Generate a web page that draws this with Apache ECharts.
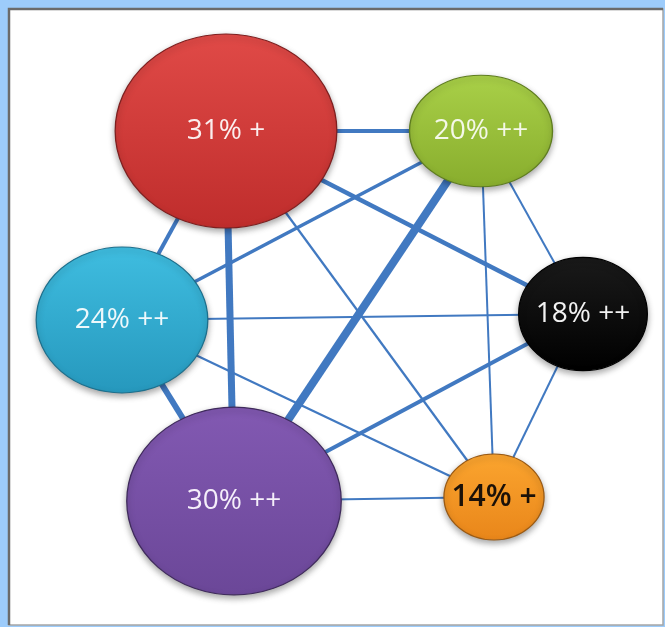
<!DOCTYPE html>
<html>
<head>
<meta charset="utf-8">
<title>Share network</title>
<script src="https://cdn.jsdelivr.net/npm/echarts@6/dist/echarts.min.js"></script>
<style>
  html, body { margin: 0; padding: 0; background: #9dccfb; }
  #chart { width: 665px; height: 627px; }
</style>
</head>
<body>
<div id="chart"></div>
<script>
// Segment shares (percent) and their trend marks
const segments = ['Red', 'Green', 'Cyan', 'Black', 'Purple', 'Orange'];
const shares = [31, 20, 24, 18, 30, 14];
const trends = ['+', '++', '++', '++', '++', '+'];

// Link strength between segments
const links = [
  ['Red', 'Green', 4],
  ['Red', 'Black', 4.5],
  ['Red', 'Cyan', 4],
  ['Red', 'Purple', 7],
  ['Red', 'Orange', 2.2],
  ['Green', 'Cyan', 3.5],
  ['Green', 'Purple', 8],
  ['Green', 'Black', 2],
  ['Green', 'Orange', 2],
  ['Cyan', 'Black', 2.2],
  ['Cyan', 'Purple', 6],
  ['Cyan', 'Orange', 2.2],
  ['Purple', 'Black', 4],
  ['Purple', 'Orange', 2.2],
  ['Black', 'Orange', 2]
];

// Node placement (pixel-space coordinates) and ellipse aspect
const layout = {
  Red:    { pos: [226, 131], aspect: 0.875 },
  Green:  { pos: [481, 131], aspect: 0.78 },
  Cyan:   { pos: [122, 320], aspect: 0.85 },
  Black:  { pos: [583, 314], aspect: 0.88 },
  Purple: { pos: [234, 501], aspect: 0.875 },
  Orange: { pos: [494, 497], aspect: 0.86 }
};

// Fill colours: [top, bottom, border, label]
const palette = {
  Red:    ['#e04a47', '#bf2d2c', '#7e1f1f', '#fbeeee'],
  Green:  ['#a9d048', '#88ad2d', '#5f7d1f', '#f4f8e8'],
  Cyan:   ['#3fbde0', '#2698bd', '#1d6f8c', '#eef8fb'],
  Black:  ['#1a1a1a', '#000000', '#000000', '#f2f2f2'],
  Purple: ['#8259b2', '#6b4798', '#3f2a5c', '#f5effa'],
  Orange: ['#fba52f', '#e9861a', '#9a5a14', '#1b1108']
};

const SIZE_PER_PCT = 7.15;

const nodes = segments.map((name, i) => {
  const w = shares[i] * SIZE_PER_PCT;
  const h = w * layout[name].aspect;
  const c = palette[name];
  return {
    name: name,
    value: layout[name].pos,
    symbol: 'circle',
    symbolSize: [w, h],
    itemStyle: {
      color: {
        type: 'linear', x: 0, y: 0, x2: 0, y2: 1,
        colorStops: [{ offset: 0, color: c[0] }, { offset: 1, color: c[1] }]
      },
      borderColor: c[2],
      borderWidth: 1.2,
      shadowColor: 'rgba(0,0,0,0.35)',
      shadowBlur: 6,
      shadowOffsetY: 3
    },
    label: {
      show: true,
      position: 'inside',
      formatter: shares[i] + '% ' + trends[i],
      color: c[3],
      fontFamily: '"Open Sans", sans-serif',
      fontSize: name === 'Orange' ? 30 : 28,
      fontWeight: name === 'Orange' ? 600 : 400
    }
  };
});

const edges = links.map(([s, t, w]) => ({
  source: s,
  target: t,
  lineStyle: { width: w }
}));

const chart = echarts.init(document.getElementById('chart'), null, { renderer: 'canvas' });
chart.setOption({
  animation: false,
  backgroundColor: 'transparent',
  grid: { left: 0, right: 0, top: 0, bottom: 0 },
  xAxis: { type: 'value', min: 0, max: 665, show: false },
  yAxis: { type: 'value', min: 0, max: 627, inverse: true, show: false },
  graphic: [
    {
      type: 'rect', z: 0,
      shape: { x: 9, y: 9, width: 654, height: 616 },
      style: { fill: '#ffffff', stroke: '#a6a6a6', lineWidth: 1.5 }
    },
    {
      type: 'polyline', z: 1,
      shape: { points: [[9, 625], [9, 9], [663, 9]] },
      style: { stroke: '#6b6b6b', lineWidth: 2.5, fill: null }
    }
  ],
  series: [{
    type: 'graph',
    coordinateSystem: 'cartesian2d',
    z: 3,
    data: nodes,
    links: edges,
    lineStyle: { color: '#4179c1', opacity: 1, curveness: 0 },
    emphasis: { disabled: true }
  }]
});
</script>
</body>
</html>
